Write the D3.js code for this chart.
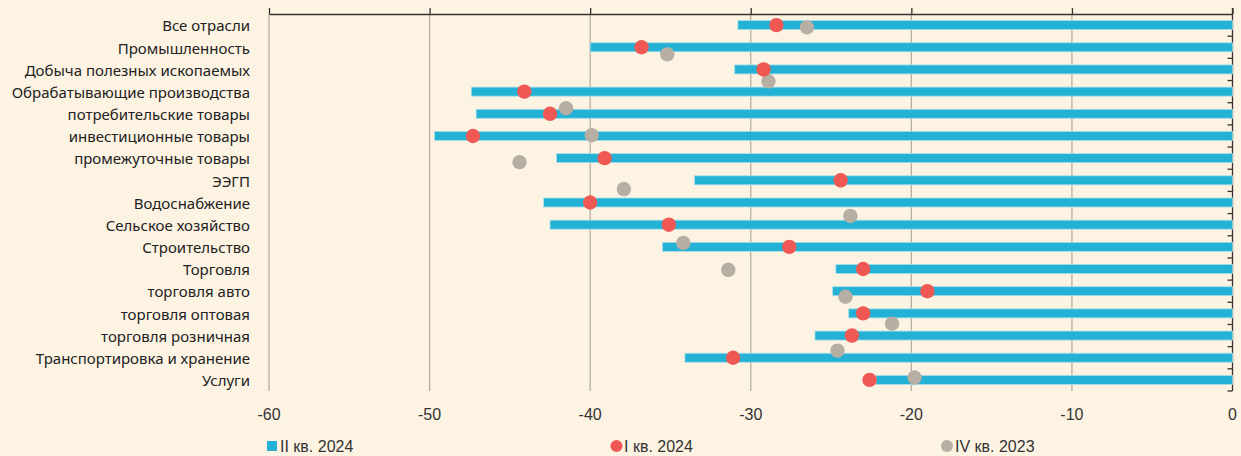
<!DOCTYPE html>
<html>
<head>
<meta charset="utf-8">
<script src="https://cdn.jsdelivr.net/npm/d3@7"></script>
<style>
  body { margin: 0; background: #fdf3e3; }
  svg { display: block; }
  .cat { font-family: "Noto Sans", sans-serif; font-size: 15px; fill: #222; }
  .tick-label, .legend text { font-family: "Liberation Sans", sans-serif; font-size: 16px; fill: #333; }
</style>
</head>
<body>
<svg id="chart" width="1241" height="456"></svg>
<script>
var width = 1241, height = 456

var categories = [
  "Все отрасли", "Промышленность", "Добыча полезных ископаемых", "Обрабатывающие производства",
  "потребительские товары", "инвестиционные товары", "промежуточные товары", "ЭЭГП",
  "Водоснабжение", "Сельское хозяйство", "Строительство", "Торговля", "торговля авто",
  "торговля оптовая", "торговля розничная", "Транспортировка и хранение", "Услуги"
]

// II кв. 2024 (bars)
var q2_2024 = [-30.8, -40.0, -31.0, -47.4, -47.1, -49.7, -42.1, -33.5, -42.9, -42.5, -35.5, -24.7, -24.9, -23.9, -26.0, -34.1, -22.2]
// I кв. 2024 (red dots)
var q1_2024 = [-28.4, -36.8, -29.2, -44.1, -42.5, -47.3, -39.1, -24.4, -40.0, -35.1, -27.6, -23.0, -19.0, -23.0, -23.7, -31.1, -22.6]
// IV кв. 2023 (grey dots) - only 14 points, spread over the full height in the source
var q4_2023 = [-26.5, -35.2, -28.9, -41.5, -39.9, -44.4, -37.9, -23.8, -34.2, -31.4, -24.1, -21.2, -24.6, -19.8]

var xTicks = [-60, -50, -40, -30, -20, -10, 0]

var svg = d3.select('#chart')

var x = d3.scaleLinear().domain([-60, 0]).range([269, 1232.5])
var y = d3.scaleBand().domain(categories).range([14, 391])
var yGrey = d3.scaleBand().domain(d3.range(q4_2023.length)).range([14, 391])

// vertical gridlines
svg.append('g').selectAll('line')
  .data(xTicks.slice(0, -1))
  .enter().append('line')
  .attr('x1', d => x(d)).attr('x2', d => x(d))
  .attr('y1', 14).attr('y2', 391)
  .attr('stroke', '#b7aea3')
  .attr('stroke-width', 1.3)

// top axis with ticks pointing up
var topAxis = svg.append('g').attr('transform', 'translate(0,14)')
  .call(d3.axisTop(x).tickValues(xTicks).tickSize(6).tickSizeOuter(0).tickFormat(''))
topAxis.select('.domain').attr('stroke', '#3a3330').attr('stroke-width', 1.3)
topAxis.selectAll('.tick line').attr('stroke', '#3a3330').attr('stroke-width', 1.3)

// right axis with category ticks
var bounds = categories.slice(1).map(c => y(c))
svg.append('line')
  .attr('x1', x(0)).attr('x2', x(0)).attr('y1', 8).attr('y2', 391)
  .attr('stroke', '#3a3330').attr('stroke-width', 1.3)
svg.append('g').selectAll('line')
  .data(bounds.concat([391]))
  .enter().append('line')
  .attr('x1', x(0) - 5).attr('x2', x(0))
  .attr('y1', d => d).attr('y2', d => d)
  .attr('stroke', '#3a3330').attr('stroke-width', 1.3)

// tick labels at the bottom
svg.append('g').selectAll('text')
  .data(xTicks)
  .enter().append('text')
  .attr('class', 'tick-label')
  .attr('x', d => x(d))
  .attr('y', 420)
  .attr('text-anchor', 'middle')
  .text(d => d)

// bars
var barH = 9
svg.append('g').selectAll('rect')
  .data(categories)
  .enter().append('rect')
  .attr('x', (d, i) => x(q2_2024[i]))
  .attr('width', (d, i) => x(0) - x(q2_2024[i]))
  .attr('y', d => y(d) + y.bandwidth() / 2 - barH / 2)
  .attr('height', barH)
  .attr('fill', '#23b2d5')
  .attr('stroke', '#a8dde9')
  .attr('stroke-width', 0.8)

// grey dots
svg.append('g').selectAll('circle')
  .data(q4_2023)
  .enter().append('circle')
  .attr('cx', d => x(d))
  .attr('cy', (d, i) => yGrey(i) + yGrey.bandwidth() / 2)
  .attr('r', 7.2)
  .attr('fill', '#b7afa3')

// red dots
svg.append('g').selectAll('circle')
  .data(categories)
  .enter().append('circle')
  .attr('cx', (d, i) => x(q1_2024[i]))
  .attr('cy', d => y(d) + y.bandwidth() / 2)
  .attr('r', 7.2)
  .attr('fill', '#ef5853')

// category labels
svg.append('g').selectAll('text')
  .data(categories)
  .enter().append('text')
  .attr('class', 'cat')
  .attr('x', 250)
  .attr('y', d => y(d) + y.bandwidth() / 2 + 1)
  .attr('dy', '0.35em')
  .attr('text-anchor', 'end')
  .text(d => d)

// legend
var legend = svg.append('g').attr('class', 'legend')
legend.append('rect').attr('x', 267).attr('y', 441).attr('width', 10).attr('height', 10).attr('fill', '#23b2d5')
legend.append('text').attr('x', 280).attr('y', 452).text('II кв. 2024')
legend.append('circle').attr('cx', 616.5).attr('cy', 446).attr('r', 6).attr('fill', '#ef5853')
legend.append('text').attr('x', 624).attr('y', 452).text('I кв. 2024')
legend.append('circle').attr('cx', 947).attr('cy', 446).attr('r', 6).attr('fill', '#b7afa3')
legend.append('text').attr('x', 955).attr('y', 452).text('IV кв. 2023')
</script>
</body>
</html>
